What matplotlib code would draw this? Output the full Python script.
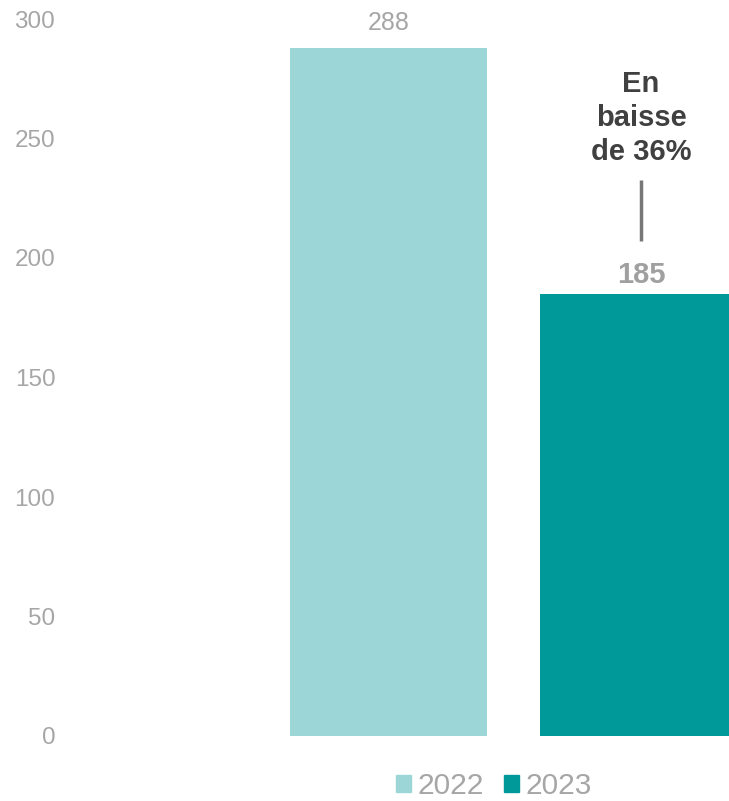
import matplotlib.pyplot as plt
from matplotlib.patches import Patch

plt.rcParams['font.family'] = ['Liberation Sans', 'DejaVu Sans']

years = ['2022', '2023']
values = [288, 185]
colors = ['#9dd6d6', '#009999']
yticks = [0, 50, 100, 150, 200, 250, 300]
note = 'En\nbaisse\nde 36%'

fig = plt.figure(figsize=(7.29, 8.01), dpi=100)
ax = fig.add_axes([65 / 729, 65 / 801, 664 / 729, 717 / 801])

xpos = [1, 2]
bars = ax.bar(xpos, values, width=0.79, color=colors)

ax.set_xlim(-0.294, 2.362)
ax.set_ylim(0, 300)
ax.set_yticks(yticks)
ax.set_xticks([])
ax.tick_params(axis='y', length=0, pad=7, labelsize=17.5, labelcolor='#a6a6a6')
for s in ax.spines.values():
    s.set_visible(False)

# value labels
ax.text(xpos[0], 295.5, str(values[0]), ha='center', va='baseline',
        fontsize=18, color='#a6a6a6')
ax.text(xpos[1] + 0.01, 189.5, str(values[1]), ha='center', va='baseline',
        fontsize=21, fontweight='bold', color='#a0a0a0')

# annotation
ax.plot([xpos[1] + 0.01, xpos[1] + 0.01], [207, 232.5], color='#777777', lw=2.5,
        solid_capstyle='butt')
ax.text(xpos[1] + 0.01, 241, note, ha='center', va='baseline', fontsize=21,
        fontweight='bold', color='#404040', linespacing=1.27)

handles = [Patch(color=c, label=y) for c, y in zip(colors, years)]
leg = fig.legend(handles=handles, loc='center', bbox_to_anchor=(494 / 729, 1 - 786 / 801),
                 ncol=2, frameon=False, fontsize=21.5, handlelength=0.5, handleheight=0.5,
                 handletextpad=0.2, columnspacing=0.7, borderpad=0, borderaxespad=0)
for t in leg.get_texts():
    t.set_color('#a6a6a6')

fig.savefig('out.png', dpi=100)
